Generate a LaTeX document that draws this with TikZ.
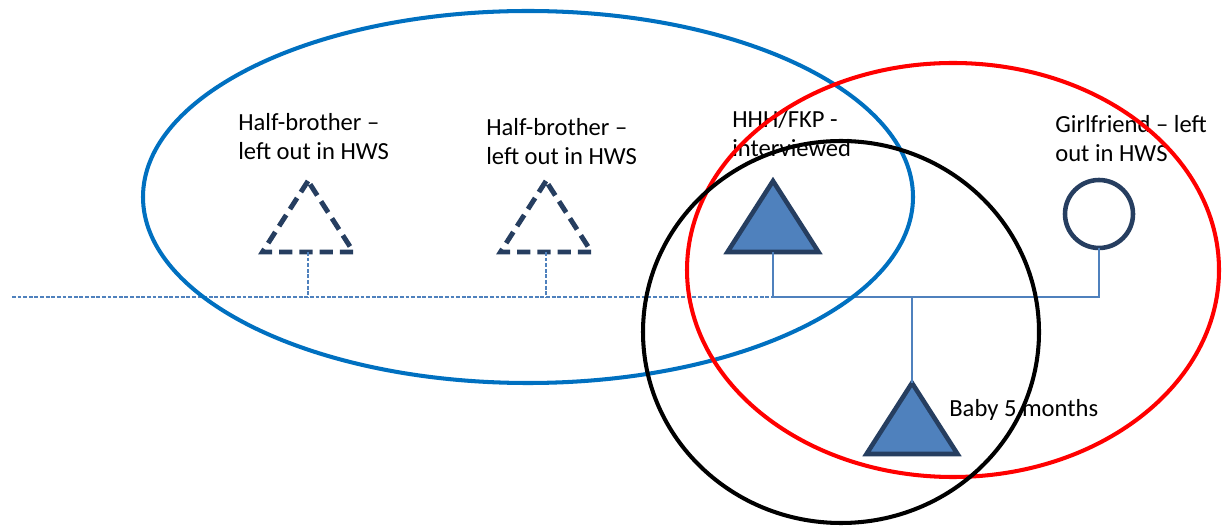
\documentclass[tikz,border=0pt]{standalone}
\usepackage{fontspec}
\setmainfont{Carlito}
\usetikzlibrary{shapes.geometric}
\definecolor{persline}{RGB}{38,62,96}
\definecolor{persfill}{RGB}{79,129,189}
\definecolor{stemblue}{RGB}{79,129,189}
\definecolor{ellblue}{RGB}{0,112,192}

\begin{document}
\begin{tikzpicture}[%
x=0.02cm, y=-0.02cm,
person/.style={draw=persline,line width=2.6pt,inner sep=0pt,outer sep=0pt},
mann/.style={person,isosceles triangle,shape border rotate=90,
  isosceles triangle stretches,minimum width=1.82cm,minimum height=1.42cm,anchor=apex},
ute/.style={line width=2.8pt,dash pattern=on 7.5pt off 4pt},
inne/.style={fill=persfill},
kvinne/.style={person,circle,minimum size=1.36cm},
stamme/.style={stemblue,line width=0.6pt},
utestamme/.style={stamme,dash pattern=on 2.2pt off 1pt},
tekst/.style={align=left,inner sep=0pt,font=\fontsize{14}{17}\selectfont,anchor=base west},
ring/.style={line width=2.3pt}]
\useasboundingbox (0,0) rectangle (1223,526);
\coordinate (linestart) at (12,297);
\node [mann,ute]  (hb1)  at (308,181) {};
\node [mann,ute]  (hb2)  at (546,181) {};
\node [mann,inne] (ego)  at (773,181) {};
\node [kvinne]    (gf)   at (1099,214) {};
\node [mann,inne] (baby) at (912,383) {};
\node [tekst] (hb1txt)  at (238,160) {Half-brother –\\left out in HWS};
\node [tekst] (hb2txt)  at (486,165) {Half-brother –\\left out in HWS};
\node [tekst] (egotxt)  at (732,157) {HHH/FKP -\\interviewed};
\node [tekst] (gftxt)   at (1055,162) {Girlfriend – left\\out in HWS};
\node [tekst] (babytxt) at (949,417) {Baby 5 months};
\draw [utestamme] (linestart) -- (ego.apex |- linestart);
\draw [utestamme] (hb1.apex |- hb1.left corner) -- (hb1.apex |- linestart);
\draw [utestamme] (hb2.apex |- hb2.left corner) -- (hb2.apex |- linestart);
\draw [stamme] (ego.apex |- ego.left corner) -- (ego.apex |- linestart)
  -- (gf.south |- linestart) -- (gf.south);
\draw [stamme] (baby.apex |- linestart) -- (baby.apex);
\draw [ring,ellblue] (528,197) ellipse [x radius=385, y radius=186];
\draw [ring,red]     (953,270) ellipse [x radius=266, y radius=207];
\draw [ring,black]   (841,332) ellipse [x radius=198, y radius=191];
\end{tikzpicture}
\end{document}
